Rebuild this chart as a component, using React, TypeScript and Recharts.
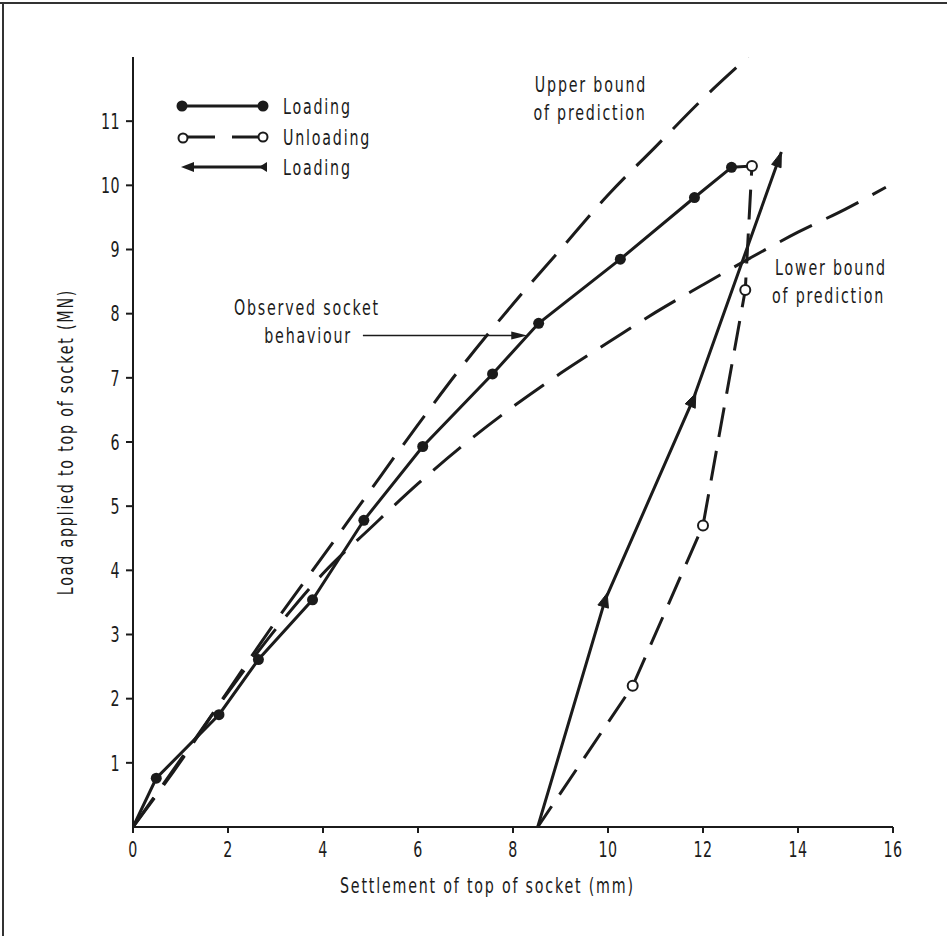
import React from 'react';
import { ComposedChart, Line, XAxis, YAxis, ReferenceLine, Legend } from 'recharts';

const FONT = "'DejaVu Sans Condensed', 'DejaVu Sans', sans-serif";
const INK = '#1b1b1b';
const SX = 0.72; // horizontal squeeze to get the tall narrow lettering
const SPACING = 1.8; // extra px between letters, on screen

// settlement of top of socket (mm) vs load applied (MN)
const loadingX = [0, 0.49, 1.81, 2.64, 3.78, 4.86, 6.1, 7.57, 8.54, 10.26, 11.82, 12.6];
const loadingY = [0, 0.76, 1.75, 2.61, 3.54, 4.78, 5.93, 7.06, 7.85, 8.85, 9.81, 10.28];

const unloadingX = [12.6, 13.03, 12.89, 12.0, 10.52, 8.52];
const unloadingY = [10.28, 10.3, 8.37, 4.7, 2.2, 0];

const reloadingX = [8.52, 9.94, 11.79, 13.65];
const reloadingY = [0, 3.54, 6.66, 10.52];

const upperX = [0, 1, 2, 3, 4, 5, 6, 7, 8, 9, 10, 11, 12, 12.95];
const upperY = [0, 1.02, 2.12, 3.2, 4.22, 5.25, 6.27, 7.25, 8.15, 9.0, 9.85, 10.6, 11.35, 12];

const lowerX = [0, 1, 2, 3, 4, 5, 6, 7, 8, 9, 10, 11, 12, 13, 14, 15, 15.85];
const lowerY = [0, 1.05, 2.1, 3.08, 3.95, 4.66, 5.35, 5.98, 6.55, 7.07, 7.55, 8.02, 8.45, 8.87, 9.27, 9.63, 9.97];

const xTicks = [0, 2, 4, 6, 8, 10, 12, 14, 16];
const yTicks = [1, 2, 3, 4, 5, 6, 7, 8, 9, 10, 11];

// "Observed socket behaviour" pointer, in data units
const pointerX = [4.84, 8.3];
const pointerY = 7.66;

const zip = (xs: number[], ys: number[]) => xs.map((x, i) => ({ x, y: ys[i] }));

const loading = zip(loadingX, loadingY);
const unloading = zip(unloadingX, unloadingY);
const reloading = zip(reloadingX, reloadingY);
const upper = zip(upperX, upperY);
const lower = zip(lowerX, lowerY);

type CondProps = {
  x: number;
  y: number;
  anchor?: 'start' | 'middle' | 'end';
  rotate?: number;
  dy?: string;
  size?: number;
  spacing?: number;
  children: React.ReactNode;
};

const Cond = ({ x, y, anchor = 'start', rotate = 0, dy, size = 22, spacing = SPACING, children }: CondProps) => (
  <text
    transform={`translate(${x},${y}) rotate(${rotate}) scale(${SX},1)`}
    textAnchor={anchor}
    dy={dy}
    fill={INK}
    fontFamily={FONT}
    fontSize={size}
    letterSpacing={spacing / SX}
  >
    {children}
  </text>
);

const XTick = (p: any) => (
  <Cond x={p.x} y={p.y} anchor="middle" dy="0.71em" spacing={0.5}>{p.payload.value}</Cond>
);
const YTick = (p: any) => (
  <Cond x={p.x} y={p.y} anchor="end" dy="0.355em" spacing={0.5}>{p.payload.value}</Cond>
);

const FilledDot = (p: any) =>
  p.index === 0 ? <g key={`f${p.index}`} /> : <circle key={`f${p.index}`} cx={p.cx} cy={p.cy} r={5.5} fill={INK} />;

const OpenDot = (p: any) => {
  const last = p.points ? p.points.length - 1 : 5;
  if (p.index === 0 || p.index === last) return <g key={`o${p.index}`} />;
  return <circle key={`o${p.index}`} cx={p.cx} cy={p.cy} r={5} fill="#fff" stroke={INK} strokeWidth={2} />;
};

// triangles pointing along the reloading path, arrowhead on the last point
const ArrowDot = (p: any) => {
  const { cx, cy, index, points } = p;
  if (index === 0 || !points) return <g key={`a${index}`} />;
  const prev = points[index - 1];
  const ang = Math.atan2(cy - prev.y, cx - prev.x);
  const c = Math.cos(ang);
  const s = Math.sin(ang);
  const last = index === points.length - 1;
  const tip = last ? 0 : 7;
  const back = last ? -15 : -7;
  const hw = last ? 5 : 5.5;
  const tx = cx + c * tip;
  const ty = cy + s * tip;
  const bx = cx + c * back;
  const by = cy + s * back;
  const d = `M${tx},${ty} L${bx - s * hw},${by + c * hw} L${bx + s * hw},${by - c * hw} Z`;
  return <path key={`a${index}`} d={d} fill={INK} stroke={INK} strokeWidth={1} />;
};

const Pointer = (p: any) => {
  const { x1, y1, x2, y2 } = p;
  return (
    <g>
      <line x1={x1} y1={y1} x2={x2 - 10} y2={y2} stroke={INK} strokeWidth={1.6} />
      <path d={`M${x2},${y2} L${x2 - 16},${y2 - 4} L${x2 - 16},${y2 + 4} Z`} fill={INK} />
    </g>
  );
};

const LegendKey = () => (
  <svg width={230} height={100} style={{ display: 'block', overflow: 'visible' }}>
    <g stroke={INK} fill={INK}>
      <line x1={12} y1={14} x2={93} y2={14} strokeWidth={3} />
      <circle cx={12} cy={14} r={5.5} stroke="none" />
      <circle cx={93} cy={14} r={5.5} stroke="none" />

      <line x1={17} y1={45} x2={45} y2={45} strokeWidth={3} />
      <line x1={62} y1={45} x2={89} y2={45} strokeWidth={3} />
      <circle cx={13} cy={46} r={4.5} fill="#fff" strokeWidth={2} />
      <circle cx={93} cy={45} r={4.5} fill="#fff" strokeWidth={2} />

      <line x1={16} y1={75} x2={96} y2={75} strokeWidth={3} />
      <path d="M11,75 L24,70 L24,80 Z" stroke="none" />
      <path d="M89,75 L97,70 L97,80 Z" stroke="none" />
    </g>
    <Cond x={113} y={22}>Loading</Cond>
    <Cond x={113} y={53}>Unloading</Cond>
    <Cond x={113} y={83}>Loading</Cond>
  </svg>
);

export default function App() {
  return (
    <div style={{ position: 'absolute', left: 0, top: 0, width: 947, height: 936, background: '#fff' }}>
      <ComposedChart
        width={947}
        height={936}
        margin={{ top: 57, right: 54, bottom: 69, left: 0 }}
      >
        <XAxis
          dataKey="x"
          type="number"
          domain={[0, 16]}
          ticks={xTicks}
          allowDataOverflow
          axisLine={{ stroke: INK, strokeWidth: 2 }}
          tickLine={{ stroke: INK, strokeWidth: 2 }}
          tickSize={6}
          tickMargin={8}
          height={40}
          tick={XTick}
        />
        <YAxis
          dataKey="y"
          type="number"
          domain={[0, 12]}
          ticks={yTicks}
          allowDataOverflow
          axisLine={{ stroke: INK, strokeWidth: 2 }}
          tickLine={{ stroke: INK, strokeWidth: 2 }}
          tickSize={7}
          tickMargin={6}
          width={133}
          tick={YTick}
        />
        <Legend
          verticalAlign="middle"
          align="center"
          content={() => <LegendKey />}
          wrapperStyle={{ left: 170, top: 92, width: 230, height: 100 }}
        />
        <Line data={upper} dataKey="y" type="monotone" stroke={INK} strokeWidth={3} strokeDasharray="36 16" dot={false} isAnimationActive={false} />
        <Line data={lower} dataKey="y" type="monotone" stroke={INK} strokeWidth={3} strokeDasharray="36 16" dot={false} isAnimationActive={false} />
        <Line data={loading} dataKey="y" type="linear" stroke={INK} strokeWidth={3} dot={FilledDot} isAnimationActive={false} />
        <Line data={unloading} dataKey="y" type="linear" stroke={INK} strokeWidth={3} strokeDasharray="30 14" dot={OpenDot} isAnimationActive={false} />
        <Line data={reloading} dataKey="y" type="linear" stroke={INK} strokeWidth={3} dot={ArrowDot} isAnimationActive={false} />
        <ReferenceLine
          segment={[{ x: pointerX[0], y: pointerY }, { x: pointerX[1], y: pointerY }]}
          stroke={INK}
          strokeWidth={1.6}
          ifOverflow="visible"
          shape={Pointer}
        />
      </ComposedChart>
      <svg width={947} height={936} style={{ position: 'absolute', left: 0, top: 0, pointerEvents: 'none' }}>
        <line x1={0} y1={3} x2={947} y2={3} stroke="#333" strokeWidth={2} />
        <line x1={3} y1={3} x2={3} y2={936} stroke="#333" strokeWidth={2} />
        <Cond x={591} y={92} anchor="middle">Upper bound</Cond>
        <Cond x={590} y={120} anchor="middle">of prediction</Cond>
        <Cond x={775} y={275}>Lower bound</Cond>
        <Cond x={772} y={303}>of prediction</Cond>
        <Cond x={380} y={315} anchor="end">Observed socket</Cond>
        <Cond x={352} y={343} anchor="end">behaviour</Cond>
        <Cond x={340} y={893}>Settlement of top of socket (mm)</Cond>
        <Cond x={73} y={442} anchor="middle" rotate={-90}>Load applied to top of socket (MN)</Cond>
      </svg>
    </div>
  );
}
